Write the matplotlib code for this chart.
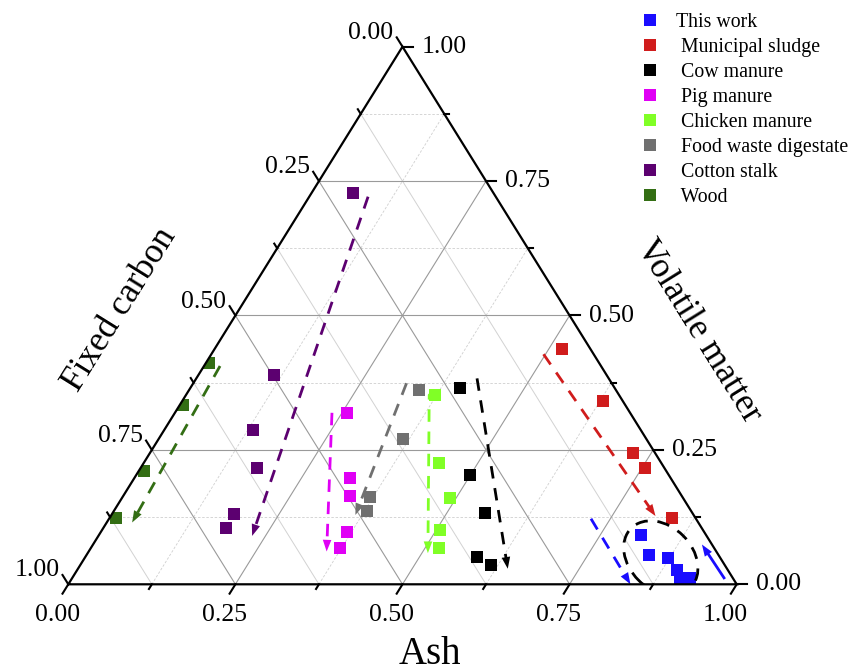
import numpy as np
import matplotlib
matplotlib.use('Agg')
import matplotlib.pyplot as plt
from matplotlib.lines import Line2D
from matplotlib.patches import Ellipse, Polygon
from matplotlib.transforms import ScaledTranslation

plt.rcParams['font.family'] = ['Liberation Serif', 'DejaVu Serif']

## data: ash and volatile matter fractions (fixed carbon is the rest)
names = ['This work', ' Municipal sludge', ' Cow manure', ' Pig manure',
         ' Chicken manure', ' Food waste digestate', ' Cotton stalk', ' Wood']
colors = ['#1a0dff', '#d01c1c', '#000000', '#e000f5',
          '#80ff26', '#707070', '#5c0070', '#336e14']

this_work_ash = [0.811, 0.842, 0.873, 0.897, 0.910, 0.924]
this_work_vm = [0.092, 0.055, 0.048, 0.027, 0.011, 0.011]
sludge_ash = [0.520, 0.630, 0.723, 0.755, 0.842]
sludge_vm = [0.438, 0.341, 0.245, 0.217, 0.123]
cow_ash = [0.403, 0.499, 0.558, 0.586, 0.615]
cow_vm = [0.366, 0.203, 0.132, 0.051, 0.036]
pig_ash = [0.258, 0.322, 0.339, 0.368, 0.372]
pig_vm = [0.318, 0.198, 0.164, 0.098, 0.068]
chicken_ash = [0.373, 0.442, 0.490, 0.506, 0.520]
chicken_vm = [0.352, 0.226, 0.161, 0.101, 0.068]
food_ash = [0.343, 0.365, 0.370, 0.379]
food_vm = [0.362, 0.270, 0.163, 0.137]
cotton_ash = [0.063, 0.113, 0.133, 0.174, 0.183, 0.184]
cotton_vm = [0.727, 0.389, 0.287, 0.217, 0.130, 0.104]
wood_ash = [0.005, 0.005, 0.008, 0.010]
wood_vm = [0.411, 0.334, 0.211, 0.123]

ash_sets = [this_work_ash, sludge_ash, cow_ash, pig_ash, chicken_ash, food_ash, cotton_ash, wood_ash]
vm_sets = [this_work_vm, sludge_vm, cow_vm, pig_vm, chicken_vm, food_vm, cotton_vm, wood_vm]

# trend arrows (ash, vm) per series
trend_this_dash = ([0.721, 0.841], [0.122, 0.0])
trend_this_solid = ([0.975, 0.911], [0.012, 0.074])
trend_sludge = ([0.497, 0.815], [0.428, 0.127])
trend_cow = ([0.420, 0.643], [0.383, 0.029])
trend_pig = ([0.235, 0.356], [0.319, 0.061])
trend_chicken = ([0.369, 0.364, 0.509], [0.361, 0.352, 0.058])
trend_food = ([0.319, 0.365], [0.374, 0.129])
trend_cotton = ([0.088, 0.230], [0.721, 0.090])
trend_wood = ([0.024, 0.038], [0.406, 0.115])
ellipse_center = (0.862, 0.049)

ticks_major = [0.0, 0.25, 0.5, 0.75, 1.0]
ticks_minor = [0.125, 0.375, 0.625, 0.875]


def tern(ash, vm):
    ash = np.asarray(ash, dtype=float)
    vm = np.asarray(vm, dtype=float)
    return ash + vm / 2, vm


fig = plt.figure(figsize=(8.48, 6.72), dpi=100)
ax = fig.add_axes([68.3 / 848, 87.7 / 672, 668.4 / 848, 537.6 / 672])
ax.set_xlim(0, 1)
ax.set_ylim(0, 1)
ax.axis('off')

## grid
for g in ticks_minor + ticks_major[1:-1]:
    is_major = g in ticks_major
    c_major = '#9a9a9a'
    # volatile = const (horizontal)
    ax.plot([g / 2, 1 - g / 2], [g, g], color=c_major if is_major else '#cfcfcf',
            lw=0.8 if is_major else 0.6, ls='-' if is_major else (0, (3, 2)), zorder=1)
    # ash = const
    ax.plot([g, g + (1 - g) / 2], [0, 1 - g], color=c_major if is_major else '#cfcfcf',
            lw=0.8 if is_major else 0.6, ls='-' if is_major else (0, (3, 2)), zorder=1)
    # fixed carbon = const
    ax.plot([(1 - g) / 2, 1 - g], [1 - g, 0], color=c_major if is_major else '#d2d2d2',
            lw=0.8 if is_major else 0.7, ls='-', zorder=1)

ax.plot([0, 1, 0.5, 0], [0, 0, 1, 0], color='black', lw=1.6, zorder=6,
        solid_joinstyle='miter', clip_on=False)

## ticks and labels
k = 11 / 633
kr = 10 / 668.4
for t in ticks_major + ticks_minor:
    f = 1.0 if t in ticks_major else 0.5
    # bottom (ash)
    ax.plot([t, t - 0.5 * k * f], [0, -k * f], color='black', lw=1.5, clip_on=False, zorder=6)
    # right (volatile)
    ax.plot([1 - t / 2, 1 - t / 2 + kr * f], [t, t], color='black', lw=1.5, clip_on=False, zorder=6)
    # left (fixed carbon)
    ax.plot([(1 - t) / 2, (1 - t) / 2 - 0.5 * k * f], [1 - t, 1 - t + k * f],
            color='black', lw=1.5, clip_on=False, zorder=6)

for t in ticks_major:
    lab = f'{t:.2f}'
    ax.annotate(lab, (t, 0), xytext=(-11, -31), textcoords='offset pixels',
                ha='center', va='center', fontsize=18.5, annotation_clip=False)
    ax.annotate(lab, (1 - t / 2, t), xytext=(19, 0), textcoords='offset pixels',
                ha='left', va='center', fontsize=18.5, annotation_clip=False)
    ax.annotate(lab, ((1 - t) / 2, 1 - t), xytext=(-9, 14), textcoords='offset pixels',
                ha='right', va='center', fontsize=18.5, annotation_clip=False)

fig.text(430 / 848, 8 / 672, 'Ash', ha='center', va='baseline', fontsize=28)
fig.text(120 / 848, 1 - 310 / 672, 'Fixed carbon', ha='center', va='center',
         rotation=58.1, rotation_mode='anchor', fontsize=25.5)
fig.text(698 / 848, 1 - 331 / 672, 'Volatile matter', ha='center', va='center',
         rotation=-58.1, rotation_mode='anchor', fontsize=25.5)

## points
tri = Polygon([(0, 0), (1, 0), (0.5, 1)], closed=True, transform=ax.transData)
handles = []
for a, v, c, n in zip(ash_sets, vm_sets, colors, names):
    x, y = tern(a, v)
    sc = ax.scatter(x, y, marker='s', s=82, color=c, linewidths=0, zorder=4)
    sc.set_clip_path(tri)
    handles.append(Line2D([], [], marker='s', ls='none', markersize=9,
                          markerfacecolor=c, markeredgewidth=0))

## trend arrows
dash = (0, (4.5, 3.5))
trends = [(trend_this_dash, colors[0], dash), (trend_this_solid, colors[0], '-'),
          (trend_sludge, colors[1], dash), (trend_cow, colors[2], dash),
          (trend_pig, colors[3], dash), (trend_chicken, colors[4], dash),
          (trend_food, colors[5], dash), (trend_cotton, colors[6], dash),
          (trend_wood, colors[7], dash)]
for (a, v), c, ls in trends:
    x, y = tern(a, v)
    seg = np.hypot(x[-1] - x[-2], y[-1] - y[-2])
    xe = x[-1] - (x[-1] - x[-2]) * 0.018 / seg
    ye = y[-1] - (y[-1] - y[-2]) * 0.018 / seg
    ax.plot(x[:-1].tolist() + [xe], y[:-1].tolist() + [ye],
            color=c, lw=2, ls=ls, zorder=5, clip_on=False)
    ax.annotate('', xy=(x[-1], y[-1]), xytext=(x[-2], y[-2]),
                arrowprops=dict(arrowstyle='-|>,head_length=0.6,head_width=0.22',
                                mutation_scale=14, lw=0, color=c,
                                shrinkA=0, shrinkB=0), zorder=5, annotation_clip=False)

ex, ey = tern(ellipse_center[0], ellipse_center[1])
ell = Ellipse((0, 0), 0.84, 0.63, angle=-45, fill=False, ec='black', lw=2,
              ls=(0, (4.5, 3.5)), zorder=5,
              transform=fig.dpi_scale_trans + ScaledTranslation(float(ex), float(ey), ax.transData))
ax.add_patch(ell)

## legend
fig.legend(handles, names, loc='upper left', bbox_to_anchor=(644 / 848, 1 - 13 / 672),
           frameon=False, fontsize=14.3, handlelength=0.6, handletextpad=1.0,
           labelspacing=0.3, borderpad=0, borderaxespad=0)

plt.savefig('out.png', dpi=100, facecolor='white')
